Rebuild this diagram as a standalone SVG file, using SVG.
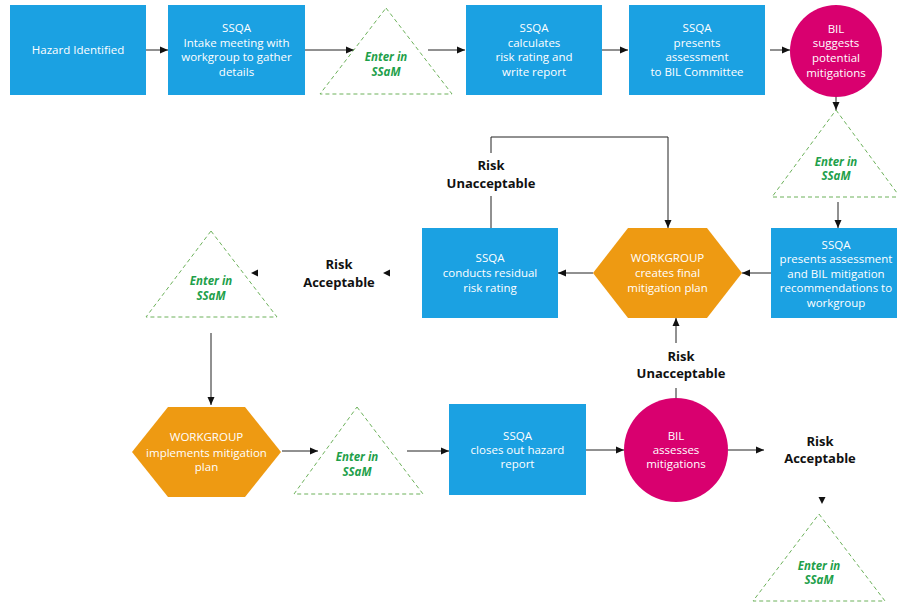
<svg xmlns="http://www.w3.org/2000/svg" width="897" height="603" viewBox="0 0 897 603">
<defs>
<marker id="ah" viewBox="0 0 8 8" refX="8" refY="4" markerWidth="8" markerHeight="8" markerUnits="userSpaceOnUse" orient="auto">
<path d="M0,0.5 L8,4 L0,7.5 Z" fill="#111"/>
</marker>
<style>
.box{fill:#1ba1e2}
.mag{fill:#d9006f}
.hex{fill:#ee9a12}
.tri{fill:#fff;stroke:#6cb15a;stroke-width:1;stroke-dasharray:4 3}
.wt{font-family:"Open Sans","Noto Sans",sans-serif;font-size:11.5px;fill:#fff;text-anchor:middle}
.gt{font-family:"Open Sans","Noto Sans",sans-serif;font-size:11.5px;font-weight:bold;font-style:italic;fill:#1ea04a;text-anchor:middle}
.bt{font-family:"Open Sans","Noto Sans",sans-serif;font-size:13px;font-weight:bold;fill:#111;text-anchor:middle}
.ln{fill:none;stroke:#222;stroke-width:1}
.ar{fill:#111}
</style>
</defs>
<rect width="897" height="603" fill="#fff"/>

<g id="connectors">
<path class="ln" d="M146,50 H168" marker-end="url(#ah)"/>
<path class="ln" d="M305,50 H354" marker-end="url(#ah)"/>
<path class="ln" d="M428,50 H465" marker-end="url(#ah)"/>
<path class="ln" d="M602,50 H628" marker-end="url(#ah)"/>
<path class="ln" d="M770,50 H790" marker-end="url(#ah)"/>
<path class="ln" d="M836,97 V110" marker-end="url(#ah)"/>
<path class="ln" d="M838,202 V228" marker-end="url(#ah)"/>
<path class="ln" d="M771,273 H742" marker-end="url(#ah)"/>
<path class="ln" d="M593,273 H558" marker-end="url(#ah)"/>
<path class="ln" d="M491,228 V196"/>
<path class="ln" d="M491,153 V137 H668 V228" marker-end="url(#ah)"/>
<path class="ar" d="M383,273 L390,269.5 L390,276.5 Z"/>
<path class="ar" d="M251,273 L258,269.5 L258,276.5 Z"/>
<path class="ln" d="M211,333 V405" stroke="#999" marker-end="url(#ah)"/>
<path class="ln" d="M282,451 H318" marker-end="url(#ah)"/>
<path class="ln" d="M407,451 H449" marker-end="url(#ah)"/>
<path class="ln" d="M586,450 H624" marker-end="url(#ah)"/>
<path class="ln" d="M676,398 V388"/>
<path class="ln" d="M676,343 V318" marker-end="url(#ah)"/>
<path class="ln" d="M728,450 H764" stroke="#888" marker-end="url(#ah)"/>
<path class="ar" d="M822,504 L818.5,497 L825.5,497 Z"/>
</g>

<g id="hazard">
<rect class="box" x="10" y="5" width="136" height="90"/>
<text class="wt" x="78" y="54">Hazard Identified</text>
</g>

<g id="intake">
<rect class="box" x="168" y="5" width="137" height="90"/>
<text class="wt" x="236.5" y="32">SSQA</text>
<text class="wt" x="236.5" y="47">Intake meeting with</text>
<text class="wt" x="236.5" y="61">workgroup to gather</text>
<text class="wt" x="236.5" y="76">details</text>
</g>

<g id="ssam1">
<polygon class="tri" points="386,8 452,94 320,94"/>
<text class="gt" x="386" y="61">Enter in</text>
<text class="gt" x="386" y="76">SSaM</text>
</g>

<g id="calc">
<rect class="box" x="466" y="5" width="136" height="90"/>
<text class="wt" x="534" y="32">SSQA</text>
<text class="wt" x="534" y="47">calculates</text>
<text class="wt" x="534" y="61">risk rating and</text>
<text class="wt" x="534" y="76">write report</text>
</g>

<g id="presents">
<rect class="box" x="629" y="5" width="136" height="90"/>
<text class="wt" x="697" y="32">SSQA</text>
<text class="wt" x="697" y="47">presents</text>
<text class="wt" x="697" y="61">assessment</text>
<text class="wt" x="697" y="76">to BIL Committee</text>
</g>

<g id="bil-suggests">
<circle class="mag" cx="836" cy="51" r="46"/>
<text class="wt" x="836" y="33">BIL</text>
<text class="wt" x="836" y="47">suggests</text>
<text class="wt" x="836" y="62">potential</text>
<text class="wt" x="836" y="77">mitigations</text>
</g>

<g id="ssam2">
<polygon class="tri" points="836,110 900,197 772,197"/>
<text class="gt" x="836" y="166">Enter in</text>
<text class="gt" x="836" y="180">SSaM</text>
</g>

<g id="presents-wg">
<rect class="box" x="771" y="228" width="130" height="90"/>
<text class="wt" x="836" y="249">SSQA</text>
<text class="wt" x="836" y="263">presents assessment</text>
<text class="wt" x="836" y="278">and BIL mitigation</text>
<text class="wt" x="836" y="292">recommendations to</text>
<text class="wt" x="836" y="307">workgroup</text>
</g>

<g id="final-plan">
<polygon class="hex" points="593,273 628,228 707,228 742,273 707,318 628,318"/>
<text class="wt" x="667.5" y="262">WORKGROUP</text>
<text class="wt" x="667.5" y="277">creates final</text>
<text class="wt" x="667.5" y="292">mitigation plan</text>
</g>

<g id="residual">
<rect class="box" x="422" y="228" width="136" height="90"/>
<text class="wt" x="490" y="262">SSQA</text>
<text class="wt" x="490" y="277">conducts residual</text>
<text class="wt" x="490" y="292">risk rating</text>
</g>

<g id="label-unacc1">
<text class="bt" x="491" y="170">Risk</text>
<text class="bt" x="491" y="188">Unacceptable</text>
</g>

<g id="label-acc1">
<text class="bt" x="339" y="269">Risk</text>
<text class="bt" x="339" y="287">Acceptable</text>
</g>

<g id="ssam3">
<polygon class="tri" points="211,231 277,317 146,317"/>
<text class="gt" x="211" y="285">Enter in</text>
<text class="gt" x="211" y="300">SSaM</text>
</g>

<g id="implements">
<polygon class="hex" points="132,452 168,407 245,407 281,452 245,497 168,497"/>
<text class="wt" x="206.5" y="441">WORKGROUP</text>
<text class="wt" x="206.5" y="457">implements mitigation</text>
<text class="wt" x="206.5" y="471">plan</text>
</g>

<g id="ssam4">
<polygon class="tri" points="357,407 423,494 294,494"/>
<text class="gt" x="357" y="461">Enter in</text>
<text class="gt" x="357" y="476">SSaM</text>
</g>

<g id="closes">
<rect class="box" x="449" y="404" width="137" height="91"/>
<text class="wt" x="517.5" y="440">SSQA</text>
<text class="wt" x="517.5" y="454">closes out hazard</text>
<text class="wt" x="517.5" y="468">report</text>
</g>

<g id="bil-assesses">
<circle class="mag" cx="676" cy="450" r="52"/>
<text class="wt" x="676" y="440">BIL</text>
<text class="wt" x="676" y="454">assesses</text>
<text class="wt" x="676" y="468">mitigations</text>
</g>

<g id="label-unacc2">
<text class="bt" x="681" y="361">Risk</text>
<text class="bt" x="681" y="378">Unacceptable</text>
</g>

<g id="label-acc2">
<text class="bt" x="820" y="446">Risk</text>
<text class="bt" x="820" y="463">Acceptable</text>
</g>

<g id="ssam5">
<polygon class="tri" points="819,514 885,601 753,601"/>
<text class="gt" x="819" y="570">Enter in</text>
<text class="gt" x="819" y="584">SSaM</text>
</g>
</svg>
